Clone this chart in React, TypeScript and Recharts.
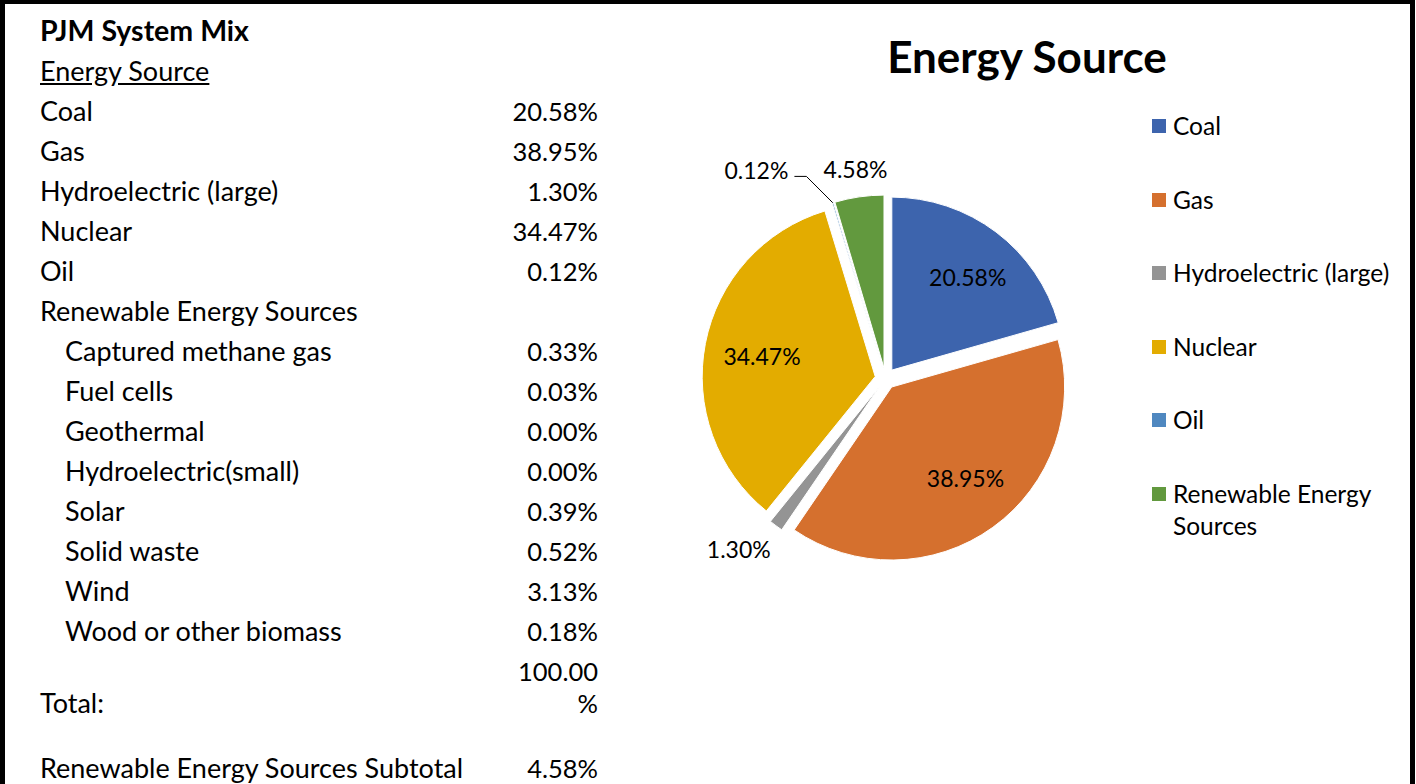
import React from 'react';
import { PieChart, Pie, Cell, Sector, Legend } from 'recharts';

const categories = ['Coal', 'Gas', 'Hydroelectric (large)', 'Nuclear', 'Oil', 'Renewable Energy Sources'];
const shares = [20.58, 38.95, 1.3, 34.47, 0.12, 4.58];
const colors = ['#3D64AD', '#D5702E', '#949494', '#E3AC00', '#4F88C0', '#62993E'];

const tableLabels = [
  'Coal', 'Gas', 'Hydroelectric (large)', 'Nuclear', 'Oil', 'Renewable Energy Sources',
  'Captured methane gas', 'Fuel cells', 'Geothermal', 'Hydroelectric(small)', 'Solar',
  'Solid waste', 'Wind', 'Wood or other biomass',
];
const tableValues = [
  '20.58%', '38.95%', '1.30%', '34.47%', '0.12%', '',
  '0.33%', '0.03%', '0.00%', '0.00%', '0.39%', '0.52%', '3.13%', '0.18%',
];
const tableIndent = [false, false, false, false, false, false, true, true, true, true, true, true, true, true];
const totalValue = '100.00%';
const subtotalLabel = 'Renewable Energy Sources Subtotal';
const subtotalValue = '4.58%';

const data = categories.map((name, i) => ({ name, value: shares[i] }));

const FONT = 'Lato, "Open Sans", sans-serif';
const EXPLODE = 10.5;
const RAD = Math.PI / 180;

const ExplodedSlice = (props: any) => {
  const { cx, cy, midAngle, innerRadius, outerRadius, startAngle, endAngle, fill } = props;
  const dx = Math.cos(-midAngle * RAD) * EXPLODE;
  const dy = Math.sin(-midAngle * RAD) * EXPLODE;
  return (
    <Sector
      cx={cx + dx}
      cy={cy + dy}
      innerRadius={innerRadius}
      outerRadius={outerRadius}
      startAngle={startAngle}
      endAngle={endAngle}
      fill={fill}
      stroke="#ffffff"
      strokeWidth={1}
    />
  );
};

const renderLabel = (props: any) => {
  const { cx, cy, midAngle, outerRadius, value, index } = props;
  const ux = Math.cos(-midAngle * RAD);
  const uy = Math.sin(-midAngle * RAD);
  const text = `${Number(value).toFixed(2)}%`;
  const style = { fontFamily: FONT, fontSize: 23, fill: '#000' };
  if (value >= 10) {
    const d = outerRadius * 0.69 + EXPLODE;
    return (
      <text key={`l${index}`} x={cx + ux * d + 4} y={cy + uy * d + (uy > 0 ? -6 : 2)} textAnchor="middle" dominantBaseline="central" style={style}>
        {text}
      </text>
    );
  }
  if (value >= 1) {
    const d = outerRadius + 36;
    const anchor = Math.abs(ux) < 0.35 ? 'middle' : ux < 0 ? 'end' : 'start';
    return (
      <text key={`l${index}`} x={cx + ux * d + (anchor === 'end' ? 10 : 0)} y={cy + uy * d + (anchor === 'middle' ? -3 : 3)} textAnchor={anchor} dominantBaseline="central" style={style}>
        {text}
      </text>
    );
  }
  const sx = cx + ux * (outerRadius + EXPLODE);
  const sy = cy + uy * (outerRadius + EXPLODE);
  const ey = cy + uy * (outerRadius + 38);
  const ex = sx - (sy - ey);
  const hx = ex - 12;
  return (
    <g key={`l${index}`}>
      <polyline points={`${sx},${sy} ${ex},${ey} ${hx},${ey}`} fill="none" stroke="#000" strokeWidth={1} />
      <text x={hx - 6} y={ey - 6} textAnchor="end" dominantBaseline="central" style={style}>
        {text}
      </text>
    </g>
  );
};

const LegendContent = () => (
  <div style={{ fontFamily: FONT, fontSize: 24.5, color: '#000' }}>
    {categories.map((c, i) => (
      <div key={c} style={{ position: 'relative', height: 73.6, paddingLeft: 21 }}>
        <span style={{ position: 'absolute', left: 0, top: 9, width: 14, height: 14, background: colors[i] }} />
        <div style={{ lineHeight: '32px', width: 230 }}>{c}</div>
      </div>
    ))}
  </div>
);

const rowStyle = (y: number): React.CSSProperties => ({
  position: 'absolute',
  top: y - 18,
  height: 36,
  lineHeight: '36px',
  whiteSpace: 'nowrap',
});

const valStyle = (y: number): React.CSSProperties => ({
  ...rowStyle(y),
  left: 400,
  width: 198,
  textAlign: 'right',
  fontSize: 25.5,
});

export default function App() {
  const rowTop = 111;
  const rowStep = 40;
  return (
    <div style={{ position: 'absolute', left: 0, top: 0, width: 1416, height: 784, background: '#fff', overflow: 'hidden', fontFamily: FONT }}>
      <div style={{ position: 'absolute', left: 0, top: 0, width: 1405, height: 800, borderLeft: '5px solid #000', borderTop: '4px solid #000', borderRight: '5px solid #000' }} />
      <div style={{ position: 'absolute', left: 0, top: 0, width: 1416, height: 784, fontSize: 27, color: '#000' }}>
        <div style={{ ...rowStyle(30), left: 40, fontWeight: 700, fontSize: 28.5 }}>PJM System Mix</div>
        <div style={{ ...rowStyle(71), left: 40, textDecoration: 'underline' }}>Energy Source</div>
        {tableLabels.map((lab, i) => (
          <React.Fragment key={lab}>
            <div style={{ ...rowStyle(rowTop + i * rowStep), left: tableIndent[i] ? 65 : 40 }}>{lab}</div>
            <div style={valStyle(rowTop + i * rowStep)}>{tableValues[i]}</div>
          </React.Fragment>
        ))}
        <div style={valStyle(671)}>{totalValue.slice(0, -1)}</div>
        <div style={{ ...rowStyle(703), left: 40 }}>Total:</div>
        <div style={valStyle(703)}>{totalValue.slice(-1)}</div>
        <div style={{ ...rowStyle(768), left: 40 }}>{subtotalLabel}</div>
        <div style={valStyle(768)}>{subtotalValue}</div>
      </div>
      <div style={{ position: 'absolute', left: 1027 - 250, top: 56 - 28, width: 500, height: 56, lineHeight: '56px', textAlign: 'center', fontSize: 44, fontWeight: 700 }}>
        Energy Source
      </div>
      <div style={{ position: 'absolute', left: 0, top: 0 }}>
        <PieChart width={1416} height={784}>
          <Pie
            data={data}
            dataKey="value"
            nameKey="name"
            cx={880.5}
            cy={373.5}
            outerRadius={173}
            startAngle={90}
            endAngle={-270}
            isAnimationActive={false}
            shape={ExplodedSlice}
            label={renderLabel}
            labelLine={false}
            stroke="#fff"
          >
            {data.map((d, i) => (
              <Cell key={d.name} fill={colors[i]} />
            ))}
          </Pie>
          <Legend
            layout="vertical"
            align="right"
            verticalAlign="top"
            content={LegendContent}
            wrapperStyle={{ position: 'absolute', left: 1152, top: 110, width: 260 }}
          />
        </PieChart>
      </div>
    </div>
  );
}
